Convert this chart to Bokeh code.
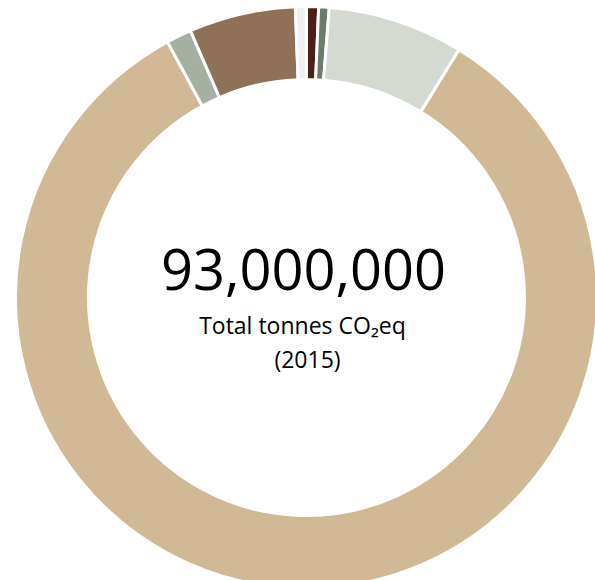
from bokeh.plotting import figure
from bokeh.models import ColumnDataSource, Range1d
from bokeh.core.properties import value
from bokeh.embed import file_html
from bokeh.resources import INLINE
import numpy as np

# Emission shares (million tonnes CO2eq), clockwise from 12 o'clock
categories = ["A", "B", "C", "D", "E", "F", "G"]
values = [0.62, 0.54, 7.0, 77.4, 1.3, 5.5, 0.57]
colors = ["#4E1F18", "#6B7D6A", "#D4D9D2", "#D2B996", "#A5B0A2", "#8F7158", "#F0F0F0"]

total_label = "93,000,000"
subtitle_1 = "Total tonnes CO\u2082eq"
subtitle_2 = "(2015)"

vals = np.array(values, dtype=float)
frac = vals / vals.sum()
cum = np.concatenate([[0.0], np.cumsum(frac)])
start = np.pi / 2 - cum[:-1] * 2 * np.pi
end = np.pi / 2 - cum[1:] * 2 * np.pi

src = ColumnDataSource(dict(cat=categories, val=values, color=colors,
                            start=start, end=end))

p = figure(width=595, height=580, output_backend="svg", toolbar_location=None,
           x_range=Range1d(-306, 289), y_range=Range1d(-283, 297),
           min_border=0)
p.axis.visible = False
p.grid.visible = False
p.outline_line_color = None
p.background_fill_color = "white"
p.border_fill_color = "white"

p.annular_wedge(x=0, y=0, inner_radius=218, outer_radius=291,
                start_angle="start", end_angle="end", direction="clock",
                fill_color="color", line_color="white", line_width=3,
                source=src)

p.text(x=[-3], y=[28], text=[total_label], text_font=value("Open Sans"),
       text_font_size="56px", text_align="center", text_baseline="alphabetic",
       text_color="black")
p.text(x=[-4], y=[-27], text=[subtitle_1], text_font=value("Open Sans"),
       text_font_size="23px", text_align="center", text_baseline="alphabetic",
       text_color="black")
p.text(x=[1], y=[-61], text=[subtitle_2], text_font=value("Open Sans"),
       text_font_size="23px", text_align="center", text_baseline="alphabetic",
       text_color="black")

open("out.html", "w").write(file_html(p, INLINE))
